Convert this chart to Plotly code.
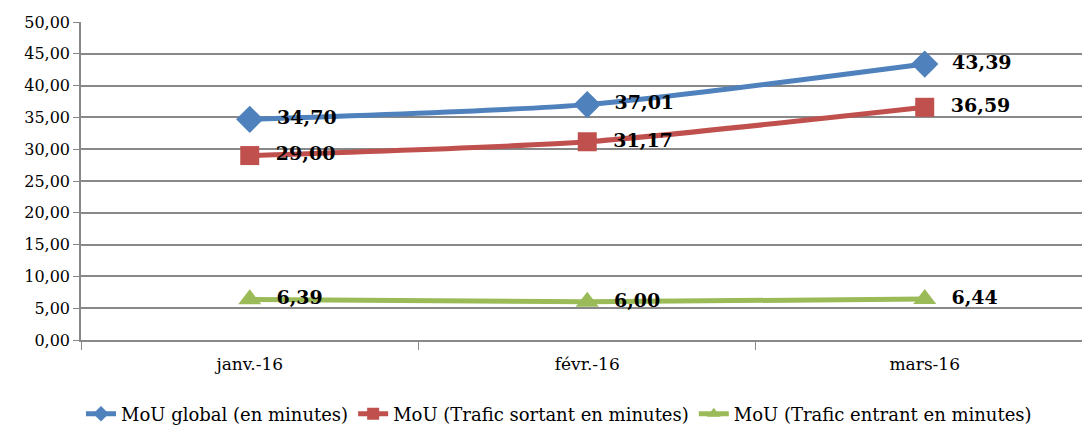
import plotly.graph_objects as go

categories = ["janv.-16", "févr.-16", "mars-16"]
mou_global = [34.70, 37.01, 43.39]
mou_sortant = [29.00, 31.17, 36.59]
mou_entrant = [6.39, 6.00, 6.44]
names = ["MoU global (en minutes)", "MoU (Trafic sortant en minutes)", "MoU (Trafic entrant en minutes)"]
y_ticks = [0, 5, 10, 15, 20, 25, 30, 35, 40, 45, 50]

def fmt(v):
    return f"{v:.2f}".replace(".", ",")

FONT = "DejaVu Serif"
series = [
    (mou_global, names[0], "#4F81BD", "diamond", 21),
    (mou_sortant, names[1], "#C0504D", "square", 19),
    (mou_entrant, names[2], "#9BBB59", "triangle-up", 20),
]

fig = go.Figure()
for vals, name, color, sym, sz in series:
    fig.add_trace(go.Scatter(
        x=categories, y=vals, name=name, mode="lines+markers+text",
        line=dict(color=color, width=5, shape="spline", smoothing=0.6),
        marker=dict(symbol=sym, size=sz, color=color),
        text=["  " + fmt(v) for v in vals], textposition="middle right",
        textfont=dict(family=FONT, size=19, color="black", weight="bold"),
        cliponaxis=False,
    ))

fig.update_layout(
    width=1082, height=428,
    margin=dict(l=81, r=0, t=22, b=88, autoexpand=False),
    paper_bgcolor="white", plot_bgcolor="white",
    separators=", ",
    font=dict(family=FONT, size=17, color="black"),
    showlegend=True,
    legend=dict(orientation="h", x=0.4775, xanchor="center", y=-0.233, yanchor="middle",
                font=dict(family=FONT, size=18), tracegroupgap=0, itemsizing="constant"),
)
fig.update_xaxes(
    type="category", range=[-0.5, 2.466], automargin=False,
    showgrid=False, showline=True, linecolor="#888888", linewidth=1.5,
    ticks="outside", tickson="boundaries", ticklen=8, tickcolor="#888888",
    tickfont=dict(family=FONT, size=17), ticklabelstandoff=8,
)
fig.update_yaxes(
    range=[0, 50], tickvals=y_ticks, tickformat=".2f", automargin=False,
    showgrid=True, gridcolor="#888888", gridwidth=1.5,
    showline=True, linecolor="#888888", linewidth=1.5,
    ticks="outside", ticklen=6, tickcolor="#888888",
    tickfont=dict(family=FONT, size=16), zeroline=False,
)

fig.write_html("out.html", config={"displayModeBar": False},
               post_script="document.body.style.margin='0';document.body.style.overflow='hidden';")
